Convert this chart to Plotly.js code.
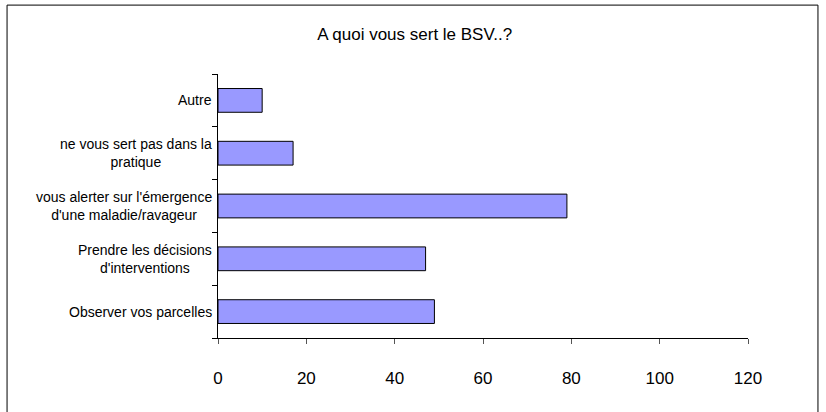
<!DOCTYPE html>
<html>
<head>
<meta charset="utf-8">
<script src="https://cdn.plot.ly/plotly-3.0.1.min.js"></script>
<style>html,body{margin:0;padding:0;background:#fff;}#chart{width:826px;height:412px;}</style>
</head>
<body>
<div id="chart"></div>
<script>
const categories = ["Observer vos parcelles", "Prendre les décisions d'interventions", "vous alerter sur l'émergence d'une maladie/ravageur", "ne vous sert pas dans la pratique", "Autre"];
const labelLines = ["Observer vos parcelles", "Prendre les décisions<br>d'interventions", "vous alerter sur l'émergence<br>d'une maladie/ravageur", "ne vous sert pas dans la<br>pratique", "Autre"];
const values = [49, 47, 79, 17, 10];
const xTicks = [0, 20, 40, 60, 80, 100, 120];

const font = "Liberation Sans, Arial, sans-serif";

const trace = {
  type: 'bar', orientation: 'h',
  y: categories, x: values,
  width: 0.45,
  marker: {color: '#9999FF', line: {color: '#000000', width: 1}},
  hoverinfo: 'none'
};

const annotations = categories.map((c, i) => ({
  xref: 'paper', yref: 'y', x: 0, y: c, xanchor: 'right', yanchor: 'middle',
  xshift: -4, text: labelLines[i], showarrow: false, align: 'center',
  font: {family: font, size: 14, color: '#000'}
}));

const layout = {
  width: 826, height: 412,
  margin: {l: 218, r: 78, t: 74, b: 74},
  paper_bgcolor: '#fff', plot_bgcolor: '#fff',
  showlegend: false,
  title: {text: 'A quoi vous sert le BSV..?', x: 0.502, xanchor: 'center', y: 0.917, yanchor: 'middle',
          font: {family: font, size: 17, color: '#000'}},
  xaxis: {range: [0, 120], tickvals: xTicks, ticktext: xTicks.map(String), showgrid: false, zeroline: false,
          showline: true, linecolor: '#000', linewidth: 1, ticks: 'outside', ticklen: 5, tickcolor: '#555',
          ticklabelstandoff: 20,
          tickfont: {family: font, size: 17, color: '#000'}, fixedrange: true},
  yaxis: {type: 'category', categoryorder: 'array', categoryarray: categories, showticklabels: false,
          showgrid: false, zeroline: false, showline: true, linecolor: '#000', linewidth: 1,
          ticks: 'outside', ticklen: 5, tickcolor: '#000', tickson: 'boundaries', fixedrange: true},
  annotations: annotations,
  shapes: [{type: 'rect', xref: 'paper', yref: 'paper', x0: -0.398, x1: 1.132, y0: -0.32, y1: 1.261,
            line: {color: '#000', width: 1}, fillcolor: 'rgba(0,0,0,0)'}]
};

Plotly.newPlot('chart', [trace], layout, {displayModeBar: false, staticPlot: true});
</script>
</body>
</html>
